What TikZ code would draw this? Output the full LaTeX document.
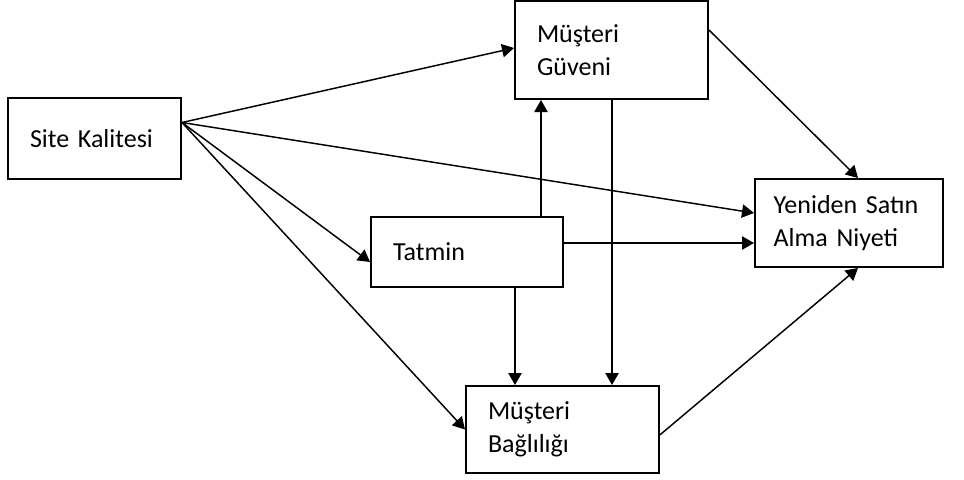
\documentclass[tikz,border=0pt]{standalone}
\usepackage{fontspec}
\setmainfont{Carlito}
\usetikzlibrary{arrows.meta}

\tikzset{
	kutu/.style={draw, line width=1.5pt, rectangle, inner xsep=16.5pt, inner ysep=0pt, align=left,
		font=\fontsize{19.5pt}{25pt}\selectfont},
	ok/.style={line width=1.1pt, -{Triangle[length=9pt,width=10pt]}}
}

\begin{document}
\begin{tikzpicture}[x=0.75pt,y=-0.75pt]
	\fill[white] (0,0) rectangle (964,479);
	\useasboundingbox (0,0) rectangle (964,479);

	\node[kutu, minimum width=129.75pt, minimum height=60.75pt, text width=96.75pt] (site) at (94.5,138.5) {Site Kalitesi};
	\node[kutu, minimum width=144.75pt, minimum height=73.5pt, text width=111.75pt] (guven) at (611.5,50) {Müşteri\\Güveni};
	\node[kutu, minimum width=144pt, minimum height=52.5pt, text width=111pt] (tatmin) at (467,252) {Tatmin};
	\node[kutu, inner xsep=14pt, minimum width=141pt, minimum height=66pt, text width=113pt] (niyet) at (849,223) {Yeniden Satın\\Alma Niyeti};
	\node[kutu, minimum width=144.75pt, minimum height=65.25pt, text width=111.75pt] (baglilik) at (562.5,429.5) {Müşteri\\Bağlılığı};

	\draw[ok] ([yshift=12pt]site.east) -- ([yshift=1.5pt]guven.west);
	\draw[ok] ([yshift=12pt]site.east) -- ([yshift=7.5pt]niyet.west);
	\draw[ok] ([yshift=12pt]site.east) -- ([yshift=-7.5pt]tatmin.west);
	\draw[ok] ([yshift=12pt]site.east) -- (baglilik.west);

	\draw[ok] ([xshift=55.5pt]tatmin.north) -- ([xshift=55.5pt]tatmin.north |- guven.south);
	\draw[ok] ([xshift=0.4pt]guven.south) -- ([xshift=0.4pt]guven.south |- baglilik.north);
	\draw[ok] ([xshift=36pt]tatmin.south) -- ([xshift=36pt]tatmin.south |- baglilik.north);
	\draw[ok] ([yshift=6.75pt]tatmin.east) -- ([yshift=-15pt]niyet.west);

	\draw[ok] ([yshift=15pt]guven.east) -- ([xshift=6.75pt]niyet.north);
	\draw[ok] ([yshift=-4pt]baglilik.east) -- ([xshift=6.75pt]niyet.south);
\end{tikzpicture}
\end{document}
